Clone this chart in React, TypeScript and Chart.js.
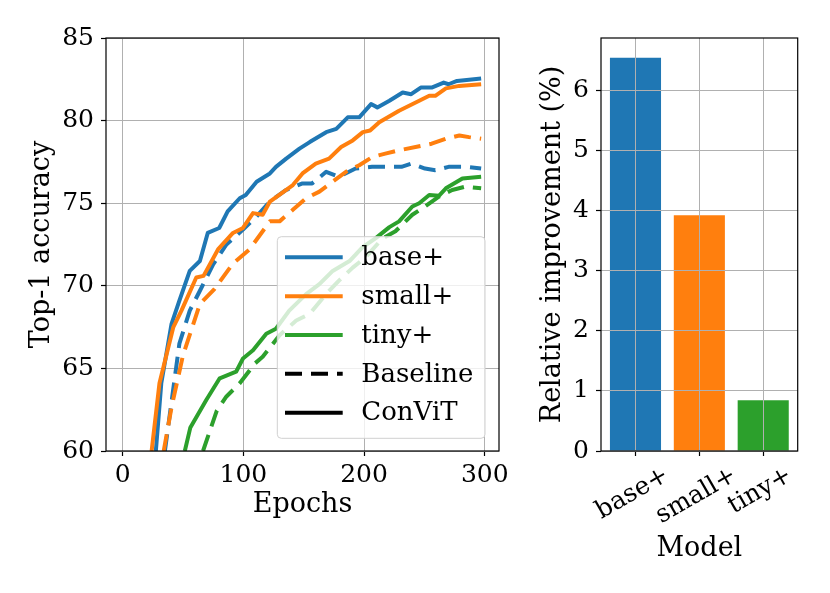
import React, { useEffect, useRef } from 'react';
import { Chart, registerables } from 'chart.js';

Chart.register(...registerables);

const FONT_FAMILY = "'DejaVu Serif', 'Liberation Serif', serif";
const TICK_FS = 25;
const TITLE_FS = 27;
const LEGEND_FS = 26;

const models = ['base+', 'small+', 'tiny+'];
const modelColors = ['#1f77b4', '#ff7f0e', '#2ca02c'];
const styleLabels = ['Baseline', 'ConViT'];
const improvement = [6.54, 3.92, 0.845];

// Top-1 accuracy curves (epoch, accuracy)
const baseConvitEp = [27.5, 32, 40.5, 47, 55.6, 64, 70.5, 80, 87, 97, 102, 111, 122, 127, 135.5, 146.5, 155, 168.6, 177, 186.5, 196, 205.8, 211, 221, 232, 239, 247, 256, 266, 270, 277, 297];
const baseConvitAcc = [60, 64.1, 67.7, 69.1, 70.9, 71.5, 73.2, 73.5, 74.5, 75.3, 75.5, 76.3, 76.8, 77.2, 77.7, 78.3, 78.7, 79.3, 79.5, 80.2, 80.2, 81.0, 80.8, 81.2, 81.7, 81.6, 82.0, 82.0, 82.3, 82.2, 82.4, 82.55];

const smallConvitEp = [24, 30.5, 42, 48.7, 61, 67, 79, 91.4, 99.7, 108, 116, 122, 141, 149, 160, 171, 181, 190.6, 199, 205, 212.6, 229, 245.7, 254, 259, 267.8, 278.8, 297];
const smallConvitAcc = [60, 64.1, 67.5, 68.5, 70.5, 70.6, 72.2, 73.2, 73.5, 74.4, 74.3, 75.1, 76.1, 76.8, 77.4, 77.7, 78.4, 78.8, 79.3, 79.4, 79.9, 80.6, 81.2, 81.5, 81.5, 81.95, 82.1, 82.2];

const baseBaselineEp = [35, 47, 55.6, 64, 75, 86, 99.7, 111, 122, 135.5, 149, 157, 168.6, 179, 193, 206.6, 217.6, 231, 239.5, 250.5, 259, 270, 284, 297];
const baseBaselineAcc = [60, 66.5, 68.5, 69.7, 71.3, 72.5, 73.4, 74.2, 75.1, 75.8, 76.2, 76.2, 76.9, 76.6, 77.1, 77.2, 77.2, 77.2, 77.4, 77.1, 77.0, 77.2, 77.2, 77.1];

const smallBaselineEp = [34, 40.5, 50, 64, 76, 91.4, 105, 122, 130, 141, 152, 163, 174, 185, 196, 207, 217.6, 229, 245.7, 256, 267.8, 279, 287, 297];
const smallBaselineAcc = [60, 62.65, 65.8, 68.9, 69.8, 71.35, 72.2, 73.9, 73.9, 74.6, 75.3, 75.7, 76.3, 76.9, 77.3, 77.8, 78.0, 78.2, 78.45, 78.6, 78.9, 79.1, 79.0, 78.9];

const tinyConvitEp = [51.5, 56, 69.4, 80.4, 94, 99.7, 108, 119, 127, 138, 152, 163, 174, 188, 199, 210, 221, 229, 240, 245.7, 254, 262, 267.8, 281.5, 297];
const tinyConvitAcc = [60, 61.4, 63.1, 64.4, 64.8, 65.6, 66.1, 67.1, 67.4, 68.5, 69.5, 70.1, 70.9, 71.5, 72.35, 72.9, 73.55, 73.9, 74.8, 75.0, 75.5, 75.45, 75.9, 76.5, 76.6];

const tinyBaselineEp = [66.6, 78, 86, 97, 109.6, 116, 130, 143.8, 155, 168.6, 179, 190.6, 201, 215, 226, 240, 250.5, 262, 273, 284, 297];
const tinyBaselineAcc = [60, 62.45, 63.3, 64.1, 65.3, 65.7, 67.0, 67.9, 68.3, 69.5, 70.3, 71.1, 71.7, 72.85, 73.3, 74.3, 74.8, 75.4, 75.8, 76.0, 75.9];

const DASH = [17, 9];
const tickFont = { family: FONT_FAMILY, size: TICK_FS };
const titleFont = { family: FONT_FAMILY, size: TITLE_FS };
const GRID = '#b0b0b0';

const toPoints = (xs: number[], ys: number[]) => xs.map((x, i) => ({ x, y: ys[i] }));

const framePlugin = {
  id: 'frame',
  afterDraw(chart: any) {
    const { ctx, chartArea: a } = chart;
    ctx.save();
    ctx.strokeStyle = '#000';
    ctx.lineWidth = 1.2;
    ctx.strokeRect(a.left, a.top, a.right - a.left, a.bottom - a.top);
    ctx.restore();
  },
};

const legendPlugin = {
  id: 'innerLegend',
  afterDatasetsDraw(chart: any) {
    const { ctx, chartArea: a } = chart;
    const right = a.right - 14;
    const bottom = a.bottom - 12.7;
    const left = right - 207.7;
    const top = bottom - 201.6;
    ctx.save();
    ctx.beginPath();
    ctx.roundRect(left, top, right - left, bottom - top, 4);
    ctx.fillStyle = 'rgba(255,255,255,0.8)';
    ctx.fill();
    ctx.strokeStyle = '#d0d0d0';
    ctx.lineWidth = 1;
    ctx.stroke();
    const entries = [
      ...models.map((m, i) => ({ label: m, color: modelColors[i], dash: [] as number[] })),
      { label: styleLabels[0], color: '#000', dash: DASH },
      { label: styleLabels[1], color: '#000', dash: [] as number[] },
    ];
    ctx.font = `${LEGEND_FS}px ${FONT_FAMILY}`;
    ctx.textBaseline = 'middle';
    ctx.textAlign = 'left';
    entries.forEach((e, i) => {
      const y = top + 20.6 + i * 38.85;
      ctx.beginPath();
      ctx.setLineDash(e.dash);
      ctx.lineCap = 'butt';
      ctx.strokeStyle = e.color;
      ctx.lineWidth = 4;
      ctx.moveTo(left + 7.7, y);
      ctx.lineTo(left + 65.4, y);
      ctx.stroke();
      ctx.setLineDash([]);
      ctx.fillStyle = '#000';
      ctx.fillText(e.label, left + 84, y + 1);
    });
    ctx.restore();
  },
};

const barLabelPlugin = {
  id: 'barLabels',
  afterDraw(chart: any) {
    const { ctx } = chart;
    const xs = chart.scales.x;
    ctx.save();
    ctx.font = `${TICK_FS}px ${FONT_FAMILY}`;
    ctx.fillStyle = '#000';
    ctx.textAlign = 'center';
    ctx.textBaseline = 'middle';
    const ang = Math.PI / 6;
    models.forEach((m, i) => {
      const px = xs.getPixelForValue(i);
      const w = ctx.measureText(m).width;
      const h = TICK_FS * 1.164;
      const H = w * Math.sin(ang) + h * Math.cos(ang);
      const cy = chart.chartArea.bottom + 10 + H / 2;
      ctx.save();
      ctx.translate(px - 3, cy);
      ctx.rotate(-ang);
      ctx.fillText(m, 0, 0);
      ctx.restore();
    });
    ctx.restore();
  },
};

export default function App() {
  const leftRef = useRef<HTMLCanvasElement | null>(null);
  const rightRef = useRef<HTMLCanvasElement | null>(null);

  useEffect(() => {
    const series = [
      { ep: baseConvitEp, acc: baseConvitAcc, color: modelColors[0], dash: [] as number[] },
      { ep: baseBaselineEp, acc: baseBaselineAcc, color: modelColors[0], dash: DASH },
      { ep: smallConvitEp, acc: smallConvitAcc, color: modelColors[1], dash: [] as number[] },
      { ep: smallBaselineEp, acc: smallBaselineAcc, color: modelColors[1], dash: DASH },
      { ep: tinyConvitEp, acc: tinyConvitAcc, color: modelColors[2], dash: [] as number[] },
      { ep: tinyBaselineEp, acc: tinyBaselineAcc, color: modelColors[2], dash: DASH },
    ].reverse();

    const left = new Chart(leftRef.current!, {
      type: 'line',
      data: {
        datasets: series.map((s) => ({
          data: toPoints(s.ep, s.acc),
          borderColor: s.color,
          backgroundColor: s.color,
          borderDash: s.dash,
          borderWidth: 4,
          pointRadius: 0,
          fill: false,
          tension: 0,
          borderCapStyle: 'butt',
          borderJoinStyle: 'round',
        })),
      },
      options: {
        animation: false,
        responsive: false,
        maintainAspectRatio: false,
        devicePixelRatio: 1,
        layout: { padding: { left: 25.8, right: 21, top: 38, bottom: 71.8 } },
        plugins: { legend: { display: false }, tooltip: { enabled: false } },
        scales: {
          x: {
            type: 'linear',
            min: -13.8,
            max: 311.8,
            afterFit: (s: any) => { s.height = 70.2; },
            ticks: { stepSize: 100, includeBounds: false, font: tickFont, color: '#000', padding: 4, maxRotation: 0, autoSkip: false },
            grid: { color: GRID, lineWidth: 1, tickLength: 5, tickColor: '#000', tickWidth: 1.2 },
            border: { display: false },
            title: { display: true, text: 'Epochs', font: titleFont, color: '#000', padding: 0 },
          },
          y: {
            type: 'linear',
            min: 60,
            max: 85,
            afterFit: (s: any) => { s.width = 80.2; },
            ticks: { stepSize: 5, includeBounds: false, font: tickFont, color: '#000', padding: 7 },
            grid: { color: GRID, lineWidth: 1, tickLength: 5, tickColor: '#000', tickWidth: 1.2 },
            border: { display: false },
            title: { display: true, text: 'Top-1 accuracy', font: titleFont, color: '#000', padding: 0 },
          },
        },
      } as any,
      plugins: [legendPlugin, framePlugin],
    });

    const right = new Chart(rightRef.current!, {
      type: 'bar',
      data: {
        datasets: [
          {
            data: models.map((m, i) => ({ x: i, y: improvement[i] })),
            backgroundColor: modelColors,
            borderWidth: 0,
            barPercentage: 0.8,
            categoryPercentage: 1.0,
          },
        ],
      },
      options: {
        animation: false,
        responsive: false,
        maintainAspectRatio: false,
        devicePixelRatio: 1,
        layout: { padding: { left: 16.8, right: 32.3, top: 38, bottom: 27.8 } },
        plugins: { legend: { display: false }, tooltip: { enabled: false } },
        scales: {
          x: {
            type: 'linear',
            min: -0.54,
            max: 2.54,
            offset: false,
            afterFit: (s: any) => { s.height = 114.2; },
            ticks: { stepSize: 1, includeBounds: false, display: false },
            grid: { z: 1, offset: false, color: GRID, lineWidth: 1, tickLength: 5, tickColor: '#000', tickWidth: 1.2 },
            border: { display: false },
            title: { display: true, text: 'Model', font: titleFont, color: '#000', padding: 0 },
          },
          y: {
            type: 'linear',
            min: 0,
            max: 6.87,
            afterFit: (s: any) => { s.width = 64.2; },
            ticks: { stepSize: 1, includeBounds: false, font: tickFont, color: '#000', padding: 7 },
            grid: { z: 1, color: GRID, lineWidth: 1, tickLength: 5, tickColor: '#000', tickWidth: 1.2 },
            border: { display: false },
            title: { display: true, text: 'Relative improvement (%)', font: titleFont, color: '#000', padding: 0 },
          },
        },
      } as any,
      plugins: [barLabelPlugin, framePlugin],
    });

    return () => {
      left.destroy();
      right.destroy();
    };
  }, []);

  return (
    <div style={{ position: 'absolute', left: 0, top: 0, width: 830, height: 593, background: '#fff' }}>
      <canvas ref={leftRef} width={520} height={593} style={{ position: 'absolute', left: 0, top: 0 }} />
      <canvas ref={rightRef} width={310} height={593} style={{ position: 'absolute', left: 520, top: 0 }} />
    </div>
  );
}
